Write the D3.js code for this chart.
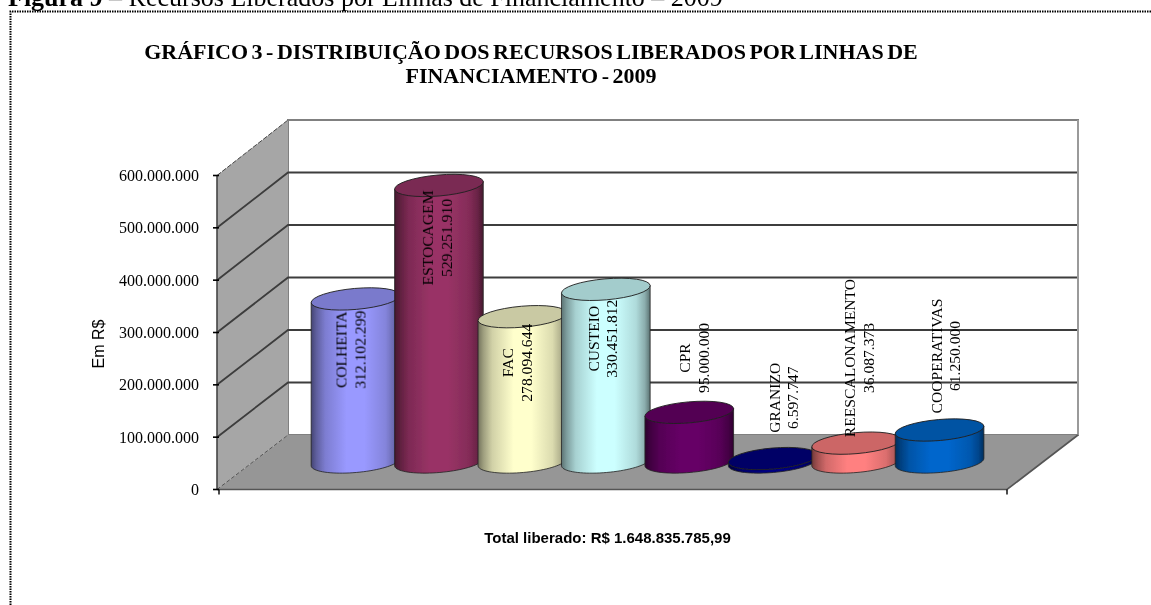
<!DOCTYPE html>
<html><head><meta charset="utf-8">
<script src="https://cdn.jsdelivr.net/npm/d3@7"></script>
<style>html,body{margin:0;padding:0;background:#fff;overflow:hidden}svg{display:block}</style>
</head><body><svg id="c" width="1151" height="605"></svg>
<script>
const categories=["COLHEITA","ESTOCAGEM","FAC","CUSTEIO","CPR","GRANIZO","REESCALONAMENTO","COOPERATIVAS"];
const valueLabels=["312.102.299","529.251.910","278.094.644","330.451.812","95.000.000","6.597.747","36.087.373","61.250.000"];
const values=[312102299,529251910,278094644,330451812,95000000,6597747,36087373,61250000];
const labelAnchors=[215e6,429e6,190e6,236e6,199e6,123e6,199e6,203e6];
const labelShifts=[-5,-2,-5,-3,5,11,3,6];
const bodyColors=["#9999ff","#993366","#ffffcc","#ccffff","#660066","#000080","#ff8080","#0066cc"];
const topColors=["#7a7acc","#7a2952","#c9c9a3","#a3cccc","#520052","#000066","#cc6666","#0052a3"];
const ticks=[0,1e8,2e8,3e8,4e8,5e8,6e8];
const tickLabels=["0","100.000.000","200.000.000","300.000.000","400.000.000","500.000.000","600.000.000"];
const titleLines=["GRÁFICO 3 - DISTRIBUIÇÃO DOS RECURSOS LIBERADOS POR LINHAS DE","FINANCIAMENTO - 2009"];

const svg=d3.select("#c"), serif="'Liberation Serif','Times New Roman',serif", sans="'Liberation Sans',Arial,sans-serif";
const front={l:217,r:1007}, dx=71;
const y=d3.scaleLinear().domain([0,6e8]).range([489.5,175.5]);
const yBack=d3.scaleLinear().domain([0,6e8]).range([435,120]);
const yBar=d3.scaleLinear().domain([0,6e8]).range([462,148.5]);
const x=d3.scaleBand().domain(categories).range([311,978.5]);
const cylW=89, ry=10.5, tilt=-5*Math.PI/180;

const defs=svg.append("defs");
defs.append("filter").attr("id","soft").append("feGaussianBlur").attr("stdDeviation",0.5);
defs.append("filter").attr("id","softText").append("feGaussianBlur").attr("stdDeviation",0.3);
categories.forEach((c,i)=>{
  const g=defs.append("linearGradient").attr("id","g"+i).attr("x1",0).attr("x2",1).attr("y1",0).attr("y2",0);
  const col=d3.color(bodyColors[i]);
  [[0,.45],[.06,.62],[.16,.82],[.4,1],[.6,1],[.84,.86],[.94,.68],[1,.45]].forEach(([o,k])=>{
    g.append("stop").attr("offset",o).attr("stop-color",d3.rgb(col.r*k,col.g*k,col.b*k));
  });
});

const plot=svg.append("g").attr("filter","url(#soft)");
const txt=svg.append("g").attr("filter","url(#softText)");

// page frame and caption
txt.append("text").attr("x",8).attr("y",6).attr("font-family",serif).attr("font-size",26).attr("fill","#000")
  .html('<tspan font-weight="bold">Figura 9</tspan> – Recursos Liberados por Linhas de Financiamento – 2009');
svg.append("path").attr("d","M10.5,605V11.5H1151").attr("fill","none").attr("stroke","#000").attr("stroke-width",2).attr("stroke-dasharray","1.5 1");

const yZero=y(0), yMax=y(6e8), bx=front.l+dx;
// back wall
plot.append("rect").attr("x",bx).attr("y",yBack(6e8)).attr("width",front.r-front.l).attr("height",yBack(0)-yBack(6e8))
  .attr("fill","#fff").attr("stroke","#808080").attr("stroke-width",2);
// side wall
plot.append("path").attr("d",`M${front.l},${yZero}V${yMax}L${bx},${yBack(6e8)}V${yBack(0)}Z`).attr("fill","#a6a6a6");
// floor
plot.append("path").attr("d",`M${front.l},${yZero}L${bx},${yBack(0)}H${front.r+dx}L${front.r},${yZero}Z`).attr("fill","#969696");
// grid lines
plot.selectAll("path.grid").data(ticks.slice(1,-1)).join("path").attr("class","grid")
  .attr("d",d=>`M${front.l},${y(d)}L${bx},${yBack(d)}H${front.r+dx}`)
  .attr("fill","none").attr("stroke","#3c3c3c").attr("stroke-width",1.8);
plot.append("path").attr("d",`M${front.l},${yMax}L${bx},${yBack(6e8)}`).attr("stroke","#444").attr("stroke-width",1).attr("stroke-dasharray","5 1.5").attr("fill","none");
plot.append("path").attr("d",`M${front.l},${yZero}L${bx},${yBack(0)}`).attr("stroke","#555").attr("stroke-width",1).attr("stroke-dasharray","4 2").attr("fill","none");
plot.append("path").attr("d",`M${front.r+dx},${yBack(0)}V${yBack(6e8)}`).attr("stroke","#9a9a9a").attr("stroke-width",2).attr("fill","none");
plot.append("path").attr("d",`M${front.l},${yZero}H${front.r}L${front.r+dx},${yBack(0)}`).attr("stroke","#555").attr("stroke-width",1.6).attr("fill","none");
plot.append("path").attr("d",`M${front.l},${yMax}V${yZero}`).attr("stroke","#444").attr("stroke-width",1.6).attr("fill","none");
// ticks
plot.selectAll("line.tk").data(ticks).join("line").attr("class","tk")
  .attr("x1",front.l-4).attr("x2",front.l+2).attr("y1",d=>y(d)).attr("y2",d=>y(d)).attr("stroke","#000").attr("stroke-width",1.6);
plot.append("line").attr("x1",front.l+2).attr("x2",front.l+2).attr("y1",yZero).attr("y2",yZero+5).attr("stroke","#000").attr("stroke-width",1.4);
plot.append("line").attr("x1",front.r).attr("x2",front.r).attr("y1",yZero).attr("y2",yZero+5).attr("stroke","#000").attr("stroke-width",1.4);

// cylinders
const ellipsePoint=(cx,cy,rx,a)=>[
  cx+rx*Math.cos(a)*Math.cos(tilt)-ry*Math.sin(a)*Math.sin(tilt),
  cy+rx*Math.cos(a)*Math.sin(tilt)+ry*Math.sin(a)*Math.cos(tilt)];
const outline=d3.line();
const sweep=d3.range(0,41).map(k=>Math.PI*(1-k/40));
categories.forEach((c,i)=>{
  const rx=cylW/2, cx=x(c)+rx, y0=yBar(0), y1=yBar(values[i]);
  const pts=[ellipsePoint(cx,y1,rx,Math.PI),...sweep.map(a=>ellipsePoint(cx,y0,rx,a)),ellipsePoint(cx,y1,rx,0)];
  const g=plot.append("g");
  g.append("path").attr("d",outline(pts)+"Z")
    .attr("fill",`url(#g${i})`).attr("stroke","#222").attr("stroke-width",.8);
  g.append("ellipse").attr("transform",`translate(${cx},${y1}) rotate(${tilt*180/Math.PI})`)
    .attr("rx",rx).attr("ry",ry).attr("fill",topColors[i]).attr("stroke","#222").attr("stroke-width",.9);
});

// data labels
categories.forEach((c,i)=>{
  const lx=x(c)+cylW/2+labelShifts[i], ly=yBar(labelAnchors[i]);
  const g=txt.append("g").attr("transform",`translate(${lx},${ly}) rotate(-90)`)
    .attr("font-family",serif).attr("font-size",15.6).attr("text-anchor","middle").attr("fill","#000");
  g.append("text").attr("x",0).attr("y",-4).text(c);
  g.append("text").attr("x",0).attr("y",14.5).text(valueLabels[i]);
});

// axis labels
txt.append("g").selectAll("text").data(ticks).join("text")
  .attr("x",199).attr("y",d=>y(d)+5.5).attr("text-anchor","end")
  .attr("font-family",serif).attr("font-size",16).attr("fill","#000")
  .text((d,i)=>tickLabels[i]);
txt.append("text").attr("transform","translate(103.5,344) rotate(-90)").attr("text-anchor","middle")
  .attr("font-family",sans).attr("font-size",16).attr("fill","#000").text("Em R$");
txt.append("g").selectAll("text").data(titleLines).join("text")
  .attr("x",531).attr("y",(d,i)=>58.5+i*24).attr("text-anchor","middle")
  .attr("font-family",serif).attr("font-weight","bold").attr("font-size",22).attr("word-spacing",-2).attr("fill","#000").text(d=>d);
txt.append("text").attr("x",607.5).attr("y",542.5).attr("text-anchor","middle")
  .attr("font-family",sans).attr("font-weight","bold").attr("font-size",15).attr("fill","#000").text("Total liberado: R$ 1.648.835.785,99");
</script></body></html>
